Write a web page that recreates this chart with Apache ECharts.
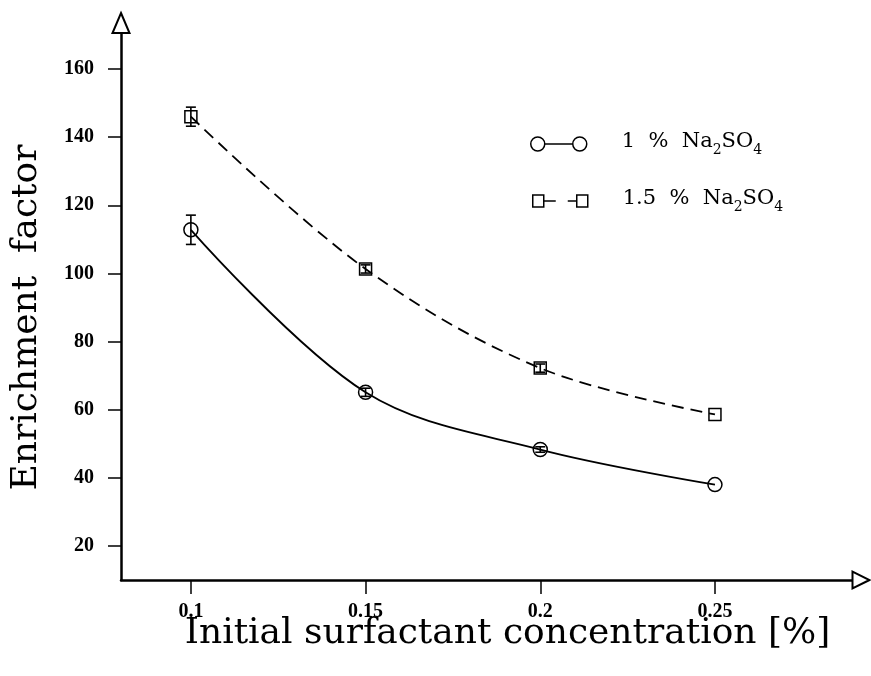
<!DOCTYPE html>
<html>
<head>
<meta charset="utf-8">
<script src="https://cdn.jsdelivr.net/npm/echarts@6/dist/echarts.min.js"></script>
<style>html,body{margin:0;padding:0;background:#fff}#c{width:871px;height:676px}</style>
</head>
<body>
<div id="c"></div>
<script>
// ---- data ----
const concentrations = [0.1, 0.15, 0.2, 0.25];
const na1Values = [112.8, 65.1, 48.3, 38.0];
const na1Errors = [4.3, 1.2, 0.8, 0];
const na15Values = [146.0, 101.3, 72.2, 58.6];
const na15Errors = [2.8, 1.2, 1.2, 0];
const seriesNames = ['1  %  Na2SO4', '1.5  %  Na2SO4'];
const xTicks = [0.1, 0.15, 0.2, 0.25];
const yTicks = [20, 40, 60, 80, 100, 120, 140, 160];
const xTitle = 'Initial surfactant concentration [%]';
const yTitle = 'Enrichment  factor';

const serif = '"DejaVu Serif", serif';
const tickFont = '"Liberation Serif", serif';

const chart = echarts.init(document.getElementById('c'), null, {renderer: 'canvas'});

function pairs(xs, ys) { return xs.map((x, i) => [x, ys[i]]); }
function triples(xs, ys, es) { return xs.map((x, i) => [x, ys[i], es[i]]); }

function errorRender(params, api) {
  const x = api.value(0), y = api.value(1), e = api.value(2);
  if (!e) return null;
  const top = api.coord([x, y + e]);
  const bot = api.coord([x, y - e]);
  const w = 5;
  const st = {stroke: '#000', lineWidth: 1.6};
  return {
    type: 'group',
    children: [
      {type: 'line', shape: {x1: top[0], y1: top[1], x2: bot[0], y2: bot[1]}, style: st},
      {type: 'line', shape: {x1: top[0] - w, y1: top[1], x2: top[0] + w, y2: top[1]}, style: st},
      {type: 'line', shape: {x1: bot[0] - w, y1: bot[1], x2: bot[0] + w, y2: bot[1]}, style: st}
    ]
  };
}

const circleIcon = 'path://M14,7A7,7 0 1 1 0,7A7,7 0 1 1 14,7Z M14,7L42,7 M56,7A7,7 0 1 1 42,7A7,7 0 1 1 56,7Z';
const squareIcon = 'path://M0,0L11,0L11,12L0,12Z M11,6L23,6 M35,6L44,6 M44,0L55,0L55,12L44,12Z';

function legendFmt(name) {
  const head = name.split('Na2SO4')[0];
  return '{g| }{a|' + head + 'Na}{s|2}{a|SO}{s|4}';
}
const legendRich = {
  g: {width: 30, fontSize: 21, lineHeight: 26, verticalAlign: 'top'},
  a: {fontFamily: serif, fontSize: 21, lineHeight: 26, verticalAlign: 'top', color: '#000'},
  s: {fontFamily: serif, fontSize: 14, lineHeight: 13, verticalAlign: 'bottom', color: '#000'}
};
const legendItemStyle = {color: 'rgba(0,0,0,0)', borderColor: '#000', borderWidth: 1.5};

const option = {
  animation: false,
  backgroundColor: '#fff',
  grid: {left: 121, right: 10, top: 23, bottom: 96, outerBoundsMode: 'none'},
  legend: [
    {
      left: 525, top: 126, orient: 'vertical', selectedMode: false,
      itemWidth: 56, itemHeight: 14, itemGap: 0,
      data: [{name: seriesNames[0], icon: circleIcon}],
      itemStyle: legendItemStyle,
      formatter: legendFmt,
      textStyle: {fontFamily: serif, fontSize: 21, color: '#000', rich: legendRich}
    },
    {
      left: 527, top: 183, orient: 'vertical', selectedMode: false,
      itemWidth: 55, itemHeight: 12, itemGap: 0,
      data: [{name: seriesNames[1], icon: squareIcon}],
      itemStyle: legendItemStyle,
      formatter: legendFmt,
      textStyle: {fontFamily: serif, fontSize: 21, color: '#000', rich: legendRich}
    }
  ],
  xAxis: {
    type: 'value', min: 0.08, max: 0.2918,
    name: xTitle, nameLocation: 'middle', nameGap: 36, nameMoveOverlap: false,
    nameTextStyle: {fontFamily: serif, fontSize: 36, color: '#000', padding: [0, 0, 0, 33]},
    axisLine: {show: true, symbol: ['none', 'emptyTriangle'], symbolSize: [17, 17],
      lineStyle: {color: '#000', width: 2.5}},
    axisTick: {show: true, length: 14, customValues: xTicks, lineStyle: {color: '#000', width: 1.5}},
    axisLabel: {customValues: xTicks, margin: 22, color: '#000', fontFamily: tickFont,
      fontWeight: 'bold', fontSize: 20, formatter: v => String(v)},
    splitLine: {show: false}
  },
  yAxis: {
    type: 'value', min: 10, max: 173.5,
    name: yTitle, nameLocation: 'middle', nameGap: 76, nameMoveOverlap: false,
    nameTextStyle: {fontFamily: serif, fontSize: 36, color: '#000', padding: [0, 32, 0, 0]},
    axisLine: {show: true, symbol: ['none', 'emptyTriangle'], symbolSize: [17, 20],
      lineStyle: {color: '#000', width: 2.5}},
    axisTick: {show: true, length: 13, customValues: yTicks, lineStyle: {color: '#000', width: 1.5}},
    axisLabel: {customValues: yTicks, margin: 27, color: '#000', fontFamily: tickFont,
      fontWeight: 'bold', fontSize: 20},
    splitLine: {show: false}
  },
  series: [
    {
      name: seriesNames[0], type: 'line', smooth: 0.35,
      data: pairs(concentrations, na1Values),
      symbol: 'circle', symbolSize: 14,
      itemStyle: {color: 'rgba(0,0,0,0)', borderColor: '#000', borderWidth: 1.5},
      lineStyle: {color: '#000', width: 1.8, type: 'solid'}
    },
    {
      name: seriesNames[1], type: 'line', smooth: 0.35,
      data: pairs(concentrations, na15Values),
      symbol: 'rect', symbolSize: 12,
      itemStyle: {color: 'rgba(0,0,0,0)', borderColor: '#000', borderWidth: 1.5},
      lineStyle: {color: '#000', width: 1.8, type: [12, 7]}
    },
    {
      type: 'custom', renderItem: errorRender, z: 5,
      data: triples(concentrations, na1Values, na1Errors)
    },
    {
      type: 'custom', renderItem: errorRender, z: 5,
      data: triples(concentrations, na15Values, na15Errors)
    }
  ]
};
chart.setOption(option);
</script>
</body>
</html>
